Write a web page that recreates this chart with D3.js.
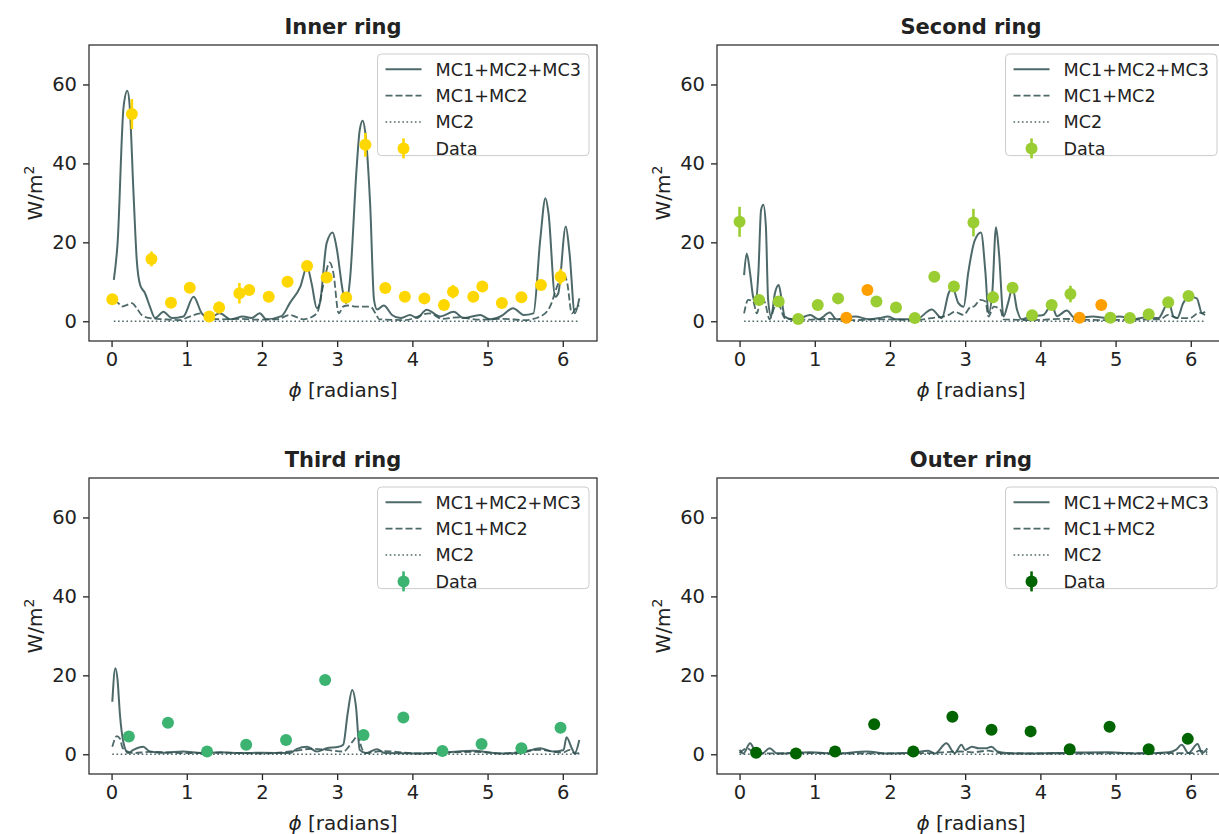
<!DOCTYPE html>
<html>
<head>
<meta charset="utf-8">
<title>Ring flux vs phi</title>
<script src="https://d3js.org/d3.v7.min.js"></script>
<style>
	body { margin: 0; background: #fff; }
	svg text { font-family: "DejaVu Sans", sans-serif; fill: #222; }
</style>
</head>
<body>
<svg id="chart" width="1219" height="834"></svg>
<script>
	// model curves, [phi, W/m2]
	var innerTotal = [[0.03,10.5],[0.08,19.8],[0.16,54.4],[0.21,58.4],[0.24,54.8],[0.29,33.3],[0.335,15.5],[0.38,9.2],[0.445,7.1],[0.51,3.7],[0.58,0.8],[0.69,2.4],[0.80,0.8],[0.955,1.2],[1.09,6.2],[1.20,2.0],[1.29,0.8],[1.44,2.0],[1.58,0.5],[1.75,1.2],[1.86,0.8],[1.97,2.0],[2.06,0.5],[2.26,1.3],[2.37,4.6],[2.51,8.8],[2.60,13.8],[2.66,9.6],[2.73,3.3],[2.77,4.6],[2.86,19.8],[2.94,22.5],[2.99,18.9],[3.08,7.1],[3.12,4.6],[3.17,10.5],[3.26,39.2],[3.30,48.5],[3.34,50.8],[3.375,47.6],[3.44,29.0],[3.49,5.4],[3.53,3.0],[3.62,4.0],[3.73,1.6],[3.84,0.8],[3.97,1.6],[4.06,0.8],[4.19,2.9],[4.37,1.2],[4.55,2.4],[4.68,0.8],[4.90,1.6],[5.03,0.5],[5.17,1.2],[5.34,3.3],[5.48,1.6],[5.61,2.0],[5.70,20.6],[5.77,31.2],[5.81,27.4],[5.90,6.2],[5.94,7.1],[6.04,24.0],[6.09,17.2],[6.16,2.0],[6.22,5.8]];
	var innerMC12 = [[0.03,5.2],[0.09,4.6],[0.135,3.7],[0.20,4.1],[0.27,4.6],[0.335,3.3],[0.40,1.6],[0.51,0.8],[0.70,0.5],[0.90,0.3],[1.04,1.2],[1.18,2.0],[1.30,0.8],[1.45,0.5],[1.70,0.6],[1.95,0.4],[2.20,0.5],[2.37,1.6],[2.55,0.5],[2.73,2.0],[2.82,9.6],[2.90,14.9],[2.95,12.2],[3.02,2.0],[3.08,3.7],[3.14,4.0],[3.26,3.7],[3.44,3.7],[3.51,2.0],[3.56,0.5],[3.90,0.3],[4.23,2.0],[4.40,0.6],[4.60,1.0],[4.90,0.4],[5.20,0.6],[5.50,0.3],[5.70,1.2],[5.83,3.7],[5.94,9.6],[6.01,12.2],[6.06,9.6],[6.12,2.0],[6.19,3.7],[6.22,4.0]];
	var innerMC2 = [[0.03,0],[1.5,0],[3.0,0],[4.5,0],[6.22,0]];
	// measured points: [phi, value, error]
	var innerData = [[0.01,5.6,0.8],[0.27,52.5,3.8],[0.53,15.8,1.9],[0.79,4.7,0.8],[1.04,8.5,1.0],[1.30,1.2,0.6],[1.43,3.5,1.5],[1.70,7.1,2.6],[1.83,7.9,1.0],[2.09,6.2,0.8],[2.34,10.0,1.0],[2.60,14.0,1.2],[2.86,11.1,1.0],[3.12,6.0,0.8],[3.375,44.7,3.0],[3.64,8.4,1.0],[3.90,6.2,0.8],[4.16,5.8,0.8],[4.42,4.1,0.8],[4.54,7.5,1.7],[4.81,6.2,0.8],[4.93,8.8,1.0],[5.19,4.6,1.3],[5.45,6.1,0.8],[5.71,9.2,1.0],[5.97,11.3,2.0]];

	var secondTotal = [[0.06,11.7],[0.095,17.2],[0.14,12.2],[0.18,6.2],[0.215,4.6],[0.25,12.2],[0.286,28.2],[0.316,29.5],[0.35,24.0],[0.38,5.4],[0.42,1.2],[0.47,7.1],[0.52,9.2],[0.56,5.4],[0.60,1.2],[0.73,0.3],[0.94,1.6],[1.05,0.5],[1.20,2.2],[1.29,0.5],[1.54,1.2],[1.72,0.5],[1.86,0.8],[1.97,1.2],[2.08,0.5],[2.35,0.5],[2.556,3.0],[2.69,0.8],[2.78,7.1],[2.83,8.6],[2.91,4.6],[2.98,3.7],[3.04,12.2],[3.13,20.6],[3.21,22.5],[3.27,12.2],[3.31,2.0],[3.36,7.1],[3.41,23.8],[3.45,17.2],[3.51,1.2],[3.57,4.6],[3.63,8.4],[3.69,2.9],[3.75,0.5],[3.86,1.2],[4.04,1.6],[4.15,4.1],[4.22,1.3],[4.35,2.7],[4.46,0.8],[4.70,1.2],[4.88,0.8],[5.05,1.2],[5.23,0.5],[5.41,1.0],[5.57,0.8],[5.64,2.9],[5.70,5.4],[5.77,1.2],[5.82,0.8],[5.90,4.6],[5.99,6.2],[6.08,5.8],[6.15,2.0],[6.19,2.4]];
	var secondMC12 = [[0.06,2.0],[0.115,5.4],[0.18,5.0],[0.23,2.0],[0.29,6.2],[0.34,4.6],[0.40,0.5],[0.47,3.7],[0.52,4.1],[0.60,0.8],[0.90,0.4],[1.20,0.6],[1.50,0.3],[1.90,0.5],[2.30,0.3],[2.56,0.8],[2.78,1.6],[2.86,2.4],[2.98,1.6],[3.08,3.7],[3.11,3.7],[3.20,5.4],[3.27,5.0],[3.31,1.2],[3.38,3.7],[3.47,2.9],[3.51,0.5],[3.90,0.3],[4.30,0.6],[4.80,0.3],[5.20,0.4],[5.59,0.5],[5.70,1.6],[5.82,0.8],[5.99,0.8],[6.11,2.2],[6.19,1.6]];
	var secondMC2 = [[0.06,0],[1.5,0],[3.0,0],[4.5,0],[6.19,0]];
	var secondData = [[0.0,25.2,3.8],[0.26,5.4,0.8],[0.52,5.0,1.2],[0.78,0.6,0.5],[1.04,4.1,0.6],[1.31,5.8,0.6],[1.42,0.9,0.5],[1.70,7.9,0.6],[1.82,5.0,0.6],[2.08,3.5,0.6],[2.33,0.8,0.5],[2.59,11.3,0.8],[2.85,8.8,0.8],[3.11,25.0,3.5],[3.37,6.1,1.5],[3.63,8.5,0.8],[3.89,1.5,0.5],[4.15,4.1,0.6],[4.40,6.9,2.1],[4.52,0.9,0.5],[4.81,4.1,0.6],[4.93,0.9,0.5],[5.19,0.8,0.5],[5.44,1.8,0.5],[5.70,4.8,1.2],[5.97,6.4,0.8]];
	// points drawn in orange in the second ring
	var secondFlagged = [1.42, 1.70, 4.52, 4.81];

	var thirdTotal = [[0.01,13.3],[0.05,21.8],[0.08,18.8],[0.11,10.4],[0.16,2.8],[0.22,0.3],[0.29,1.1],[0.42,1.9],[0.51,0.7],[0.70,0.4],[0.95,0.7],[1.20,0.3],[1.45,0.5],[1.71,0.3],[2.00,0.4],[2.37,0.3],[2.46,1.3],[2.60,1.9],[2.73,0.7],[2.86,1.5],[3.02,1.9],[3.08,2.4],[3.14,10.4],[3.20,16.3],[3.25,12.1],[3.30,1.1],[3.38,0.3],[3.53,1.3],[3.63,0.3],[4.07,0.2],[4.40,0.4],[4.81,0.9],[5.15,0.2],[5.45,0.4],[5.70,1.5],[5.87,0.7],[6.01,1.1],[6.05,4.3],[6.12,1.5],[6.16,0.3],[6.22,3.6]];
	var thirdMC12 = [[0.01,1.9],[0.07,4.6],[0.11,4.0],[0.15,1.5],[0.29,0.3],[0.50,0.6],[1.00,0.3],[1.50,0.4],[2.00,0.2],[2.46,0.9],[2.65,1.4],[2.86,1.1],[3.08,0.7],[3.22,3.6],[3.28,4.9],[3.32,1.9],[3.38,0.3],[3.60,0.8],[4.10,0.2],[4.80,0.6],[5.20,0.2],[5.70,1.1],[6.00,0.4],[6.09,1.1],[6.16,0.2],[6.22,0.3]];
	var thirdMC2 = [[0.01,0],[1.5,0],[3.0,0],[4.5,0],[6.22,0]];
	var thirdData = [[0.23,4.5,0.5],[0.75,8.0,0.5],[1.27,0.7,0.4],[1.79,2.4,0.4],[2.32,3.6,0.5],[2.84,18.8,0.6],[3.35,4.9,0.5],[3.88,9.3,0.5],[4.40,0.8,0.4],[4.92,2.6,0.4],[5.45,1.5,0.4],[5.97,6.7,0.5]];

	var outerTotal = [[0.0,1.1],[0.05,0.2],[0.14,2.8],[0.20,1.1],[0.30,0.2],[0.40,1.5],[0.50,0.2],[0.94,0.5],[1.30,0.2],[1.69,0.7],[1.96,0.2],[2.30,0.4],[2.51,0.9],[2.60,0.2],[2.75,2.8],[2.86,0.3],[2.95,2.4],[3.00,1.1],[3.09,1.9],[3.18,1.5],[3.27,1.5],[3.35,1.9],[3.43,0.7],[3.55,0.3],[3.84,0.2],[4.40,0.4],[4.91,0.5],[5.30,0.2],[5.71,0.5],[5.80,1.1],[5.88,2.4],[5.97,0.3],[6.09,2.6],[6.15,0.3],[6.22,1.5]];
	var outerMC12 = [[0.0,0.3],[0.10,1.5],[0.17,0.7],[0.30,0.2],[0.80,0.3],[1.50,0.2],[2.50,0.3],[2.93,0.7],[3.10,0.5],[3.30,0.9],[3.50,0.2],[4.50,0.2],[5.50,0.3],[6.03,0.3],[6.12,0.9],[6.22,0.5]];
	var outerMC2 = [[0.0,0],[1.5,0],[3.0,0],[4.5,0],[6.22,0]];
	var outerData = [[0.22,0.4,0.3],[0.75,0.2,0.3],[1.27,0.7,0.3],[1.79,7.6,0.5],[2.31,0.7,0.3],[2.83,9.5,0.5],[3.35,6.2,0.5],[3.87,5.8,0.5],[4.39,1.3,0.3],[4.92,7.0,0.5],[5.44,1.3,0.3],[5.96,3.9,0.4]];

	var xTicks = [0, 1, 2, 3, 4, 5, 6];
	var yTicks = [0, 20, 40, 60];
	var legendLabels = ['MC1+MC2+MC3', 'MC1+MC2', 'MC2', 'Data'];

	const W = 508, H = 296, FS = 17.6, TICKFS = 19.5, LABELFS = 20;
	const LINECOL = '#2f4f4f';

	var panels = [
		{title: 'Inner ring', left: 89, top: 45, total: innerTotal, mc12: innerMC12, mc2: innerMC2, data: innerData, color: '#ffd700'},
		{title: 'Second ring', left: 717, top: 45, total: secondTotal, mc12: secondMC12, mc2: secondMC2, data: secondData, color: '#9acd32', flagged: secondFlagged},
		{title: 'Third ring', left: 89, top: 478, total: thirdTotal, mc12: thirdMC12, mc2: thirdMC2, data: thirdData, color: '#3cb371'},
		{title: 'Outer ring', left: 717, top: 478, total: outerTotal, mc12: outerMC12, mc2: outerMC2, data: outerData, color: '#006400'}
	];

	var svg = d3.select('#chart');

	function styleLine(sel, kind) {
		sel.attr('fill', 'none')
			.attr('stroke', LINECOL)
			.attr('stroke-opacity', 0.85);
		if (kind == 'solid') sel.attr('stroke-width', 2);
		if (kind == 'dash') sel.attr('stroke-width', 1.8).attr('stroke-dasharray', '7,3');
		if (kind == 'dot') sel.attr('stroke-width', 1.6).attr('stroke-dasharray', '1.6,2.6');
		return sel;
	}

	panels.forEach(function(p) {
		var x = d3.scaleLinear().domain([-0.3, 6.455]).range([0, W]);
		var y = d3.scaleLinear().domain([-5, 70]).range([H, 0]);
		var g = svg.append('g').attr('transform', 'translate(' + p.left + ',' + p.top + ')');

		// axes
		var xa = g.append('g').attr('transform', 'translate(0,' + H + ')')
			.call(d3.axisBottom(x).tickValues(xTicks).tickFormat(d3.format('d'))
				.tickSize(6).tickPadding(5).tickSizeOuter(0));
		var ya = g.append('g')
			.call(d3.axisLeft(y).tickValues(yTicks).tickFormat(d3.format('d'))
				.tickSize(6).tickPadding(6).tickSizeOuter(0));
		[xa, ya].forEach(function(a) {
			a.attr('font-size', TICKFS).attr('font-family', '"DejaVu Sans", sans-serif');
			a.select('.domain').remove();
			a.selectAll('line').attr('stroke', '#222').attr('stroke-width', 1.3);
			a.selectAll('text').attr('fill', '#222');
		});

		// model curves
		var line = d3.line().x(d => x(d[0])).y(d => y(d[1])).curve(d3.curveMonotoneX);
		styleLine(g.append('path').attr('d', line(p.mc2)), 'dot');
		styleLine(g.append('path').attr('d', line(p.mc12)), 'dash');
		styleLine(g.append('path').attr('d', line(p.total)), 'solid');

		// data with error bars
		var colorOf = function(d) {
			if (p.flagged && p.flagged.indexOf(d[0]) >= 0) return '#ff9f00';
			return p.color;
		};
		var pts = g.append('g').selectAll('g').data(p.data).join('g');
		pts.append('line')
			.attr('x1', d => x(d[0])).attr('x2', d => x(d[0]))
			.attr('y1', d => y(d[1] - d[2])).attr('y2', d => y(d[1] + d[2]))
			.attr('stroke', colorOf).attr('stroke-width', 2.6);
		pts.append('circle')
			.attr('cx', d => x(d[0])).attr('cy', d => y(d[1]))
			.attr('r', 6).attr('fill', colorOf);

		// frame
		g.append('rect').attr('width', W).attr('height', H)
			.attr('fill', 'none').attr('stroke', '#333').attr('stroke-width', 1.3);

		// legend
		var lg = g.append('g');
		var box = lg.append('rect');
		var rowH = FS * 1.5;
		var items = lg.selectAll('g.item').data(legendLabels).join('g')
			.attr('class', 'item')
			.attr('transform', (d, i) => 'translate(0,' + (i * rowH) + ')');
		items.append('text').attr('x', 58).attr('y', 0).attr('dy', '0.36em')
			.attr('font-size', FS).text(d => d);
		var maxW = d3.max(items.selectAll('text').nodes(), n => n.getComputedTextLength());
		var bw = 58 + maxW + 8, bh = rowH * 4 - 4;
		items.each(function(d, i) {
			var it = d3.select(this);
			if (i < 3) {
				styleLine(it.append('line').attr('x1', 8).attr('x2', 44).attr('y1', 0).attr('y2', 0),
					['solid', 'dash', 'dot'][i]);
			} else {
				it.append('line').attr('x1', 26).attr('x2', 26).attr('y1', -10).attr('y2', 10)
					.attr('stroke', p.color).attr('stroke-width', 2.6);
				it.append('circle').attr('cx', 26).attr('cy', 0).attr('r', 6).attr('fill', p.color);
			}
		});
		box.attr('x', 0).attr('y', -rowH / 2 - 2).attr('width', bw).attr('height', bh)
			.attr('rx', 4).attr('fill', '#fff').attr('fill-opacity', 0.8)
			.attr('stroke', '#cccccc').attr('stroke-width', 1);
		lg.attr('transform', 'translate(' + (W - 8 - bw) + ',' + (9 + rowH / 2 + 2) + ')');

		// titles and labels
		g.append('text').attr('x', W / 2).attr('y', -11).attr('text-anchor', 'middle')
			.attr('font-size', 21).attr('font-weight', 'bold').text(p.title);
		var xl = g.append('text').attr('x', W / 2).attr('y', H + 56).attr('text-anchor', 'middle')
			.attr('font-size', LABELFS);
		xl.append('tspan').attr('font-style', 'italic').text('ϕ');
		xl.append('tspan').text(' [radians]');
		var yl = g.append('text').attr('transform', 'translate(-47,' + (H / 2) + ') rotate(-90)')
			.attr('text-anchor', 'middle').attr('font-size', LABELFS);
		yl.append('tspan').text('W/m');
		yl.append('tspan').attr('font-size', 14).attr('dy', -8).text('2');
	});
</script>
</body>
</html>
